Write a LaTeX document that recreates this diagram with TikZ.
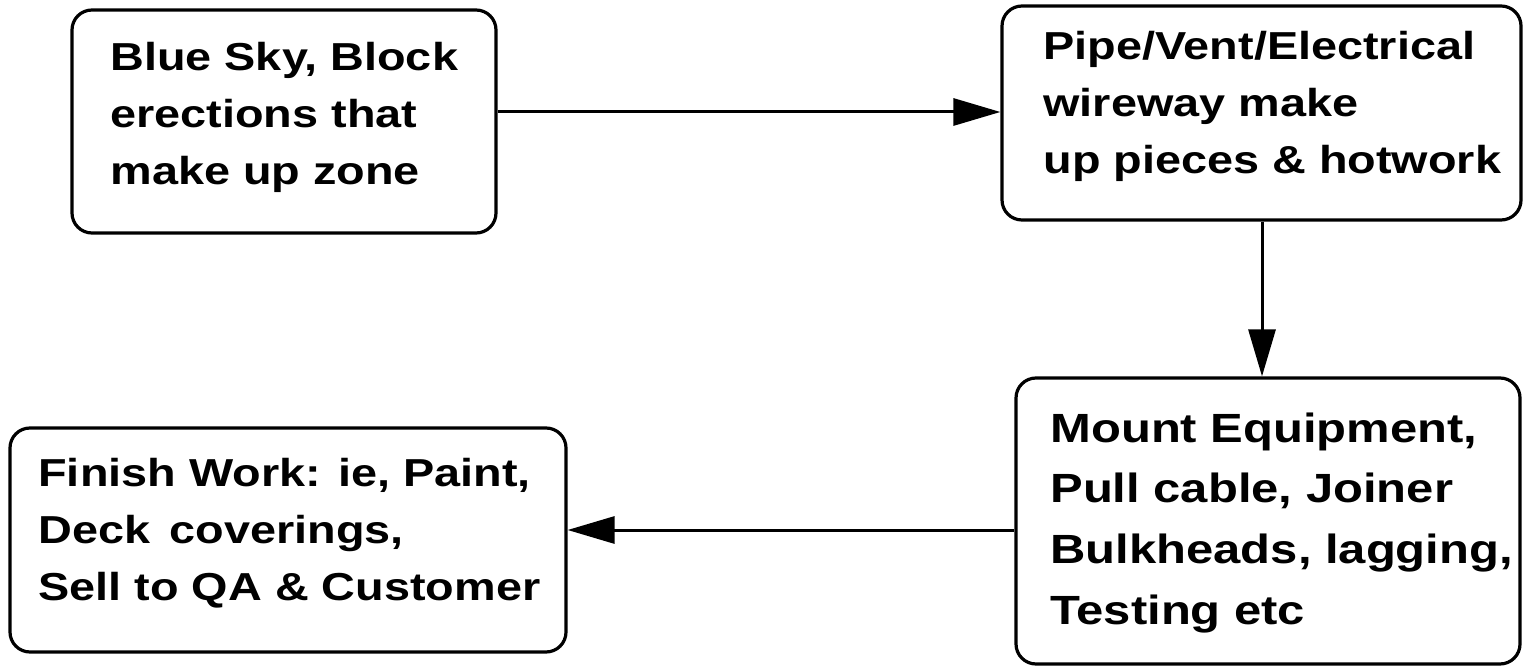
\documentclass[tikz,border=0pt]{standalone}
\usepackage{fontspec}
\setmainfont{Liberation Sans}[FakeStretch=1.2]
\usetikzlibrary{arrows.meta,fit}
\begin{document}
\begin{tikzpicture}[x=0.5pt,y=-0.5pt,
  box/.style={draw, line width=1.6pt, rounded corners=10pt, inner sep=0pt},
  % anchored at the baseline of the last line of the text
  boxtext/.style={anchor=base west, inner sep=0pt, align=left},
  smalltext/.style={font=\fontsize{19.5pt}{28.5pt}\selectfont\bfseries},
  bigtext/.style={font=\fontsize{20.4pt}{30.3pt}\selectfont\bfseries},
  flow/.style={line width=1.5pt, -{Triangle[length=23.5pt,width=13.5pt]}}]
\useasboundingbox (0,0) rectangle (1524,667);

% box corners
\coordinate (a1) at (72,10);   \coordinate (a2) at (496,233);
\coordinate (b1) at (1002,6);  \coordinate (b2) at (1521,220);
\coordinate (c1) at (1016,378);\coordinate (c2) at (1520,664);
\coordinate (d1) at (10,428);  \coordinate (d2) at (566,652);

\node[box, fit=(a1)(a2)] (a) {};
\node[box, fit=(b1)(b2)] (b) {};
\node[box, fit=(c1)(c2)] (c) {};
\node[box, fit=(d1)(d2)] (d) {};

% box texts
\node[boxtext, smalltext] (at) at (110,185)
  {Blue Sky, Block\\erections that\\make up zone};
\node[boxtext, smalltext] (bt) at (1043,174)
  {Pipe/Vent/Electrical\\wireway make\\up pieces \& hotwork};
\node[boxtext, bigtext] (ct) at (1050,624)
  {Mount Equipment,\\Pull cable, Joiner\\Bulkheads, lagging,\\Testing etc};
\node[boxtext, smalltext] (dt) at (38,600)
  {Finish Work: ie, Paint,\\Deck\hspace{0.5em}coverings,\\Sell to QA \& Customer};

% connector routes
\coordinate (ab) at (0,112);
\coordinate (bc) at (1262,0);
\coordinate (cd) at (0,530);

\draw[flow] (a.east |- ab) -- (b.west |- ab);
\draw[flow] (b.south -| bc) -- (c.north -| bc);
\draw[flow] (c.west |- cd) -- (d.east |- cd);
\end{tikzpicture}
\end{document}
